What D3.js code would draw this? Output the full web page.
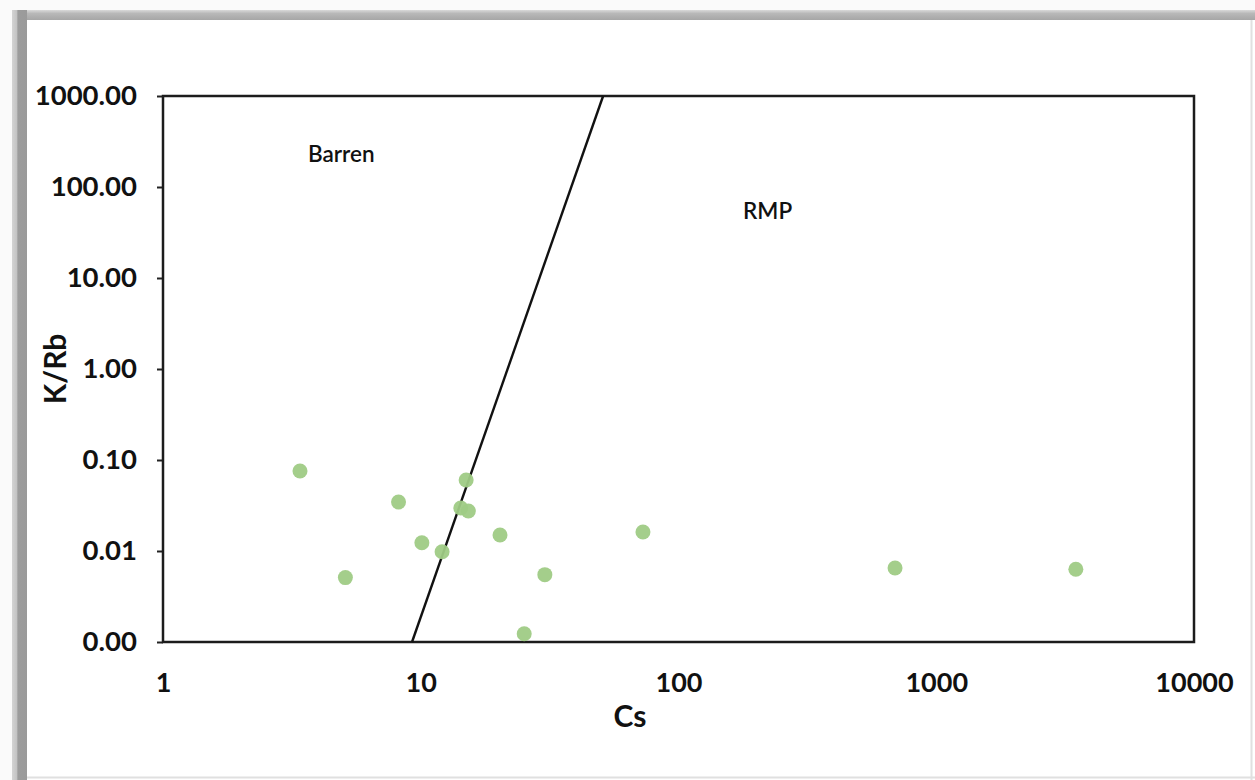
<!DOCTYPE html>
<html>
<head>
<meta charset="utf-8">
<script src="https://cdn.jsdelivr.net/npm/d3@7"></script>
<style>
  html, body { margin: 0; padding: 0; background: #fff; }
  svg { display: block; }
</style>
</head>
<body>
<svg id="chart" width="1255" height="780"></svg>
<script>
// ---- data ----
const csValues   = [3.4, 8.2, 15.0, 14.3, 15.3, 20.3, 10.1, 12.1, 5.1, 30.3, 25.2, 72.8, 692, 3480];
const kRbValues  = [0.0757, 0.0345, 0.0603, 0.0297, 0.0275, 0.0150, 0.0123, 0.0098, 0.0051, 0.0055, 0.00123, 0.0162, 0.0065, 0.0063];
const boundaryCs  = [9.25, 51];
const boundaryKRb = [0.001, 1000];
const xTicks = [1, 10, 100, 1000, 10000];
const yTicks = [0.001, 0.01, 0.1, 1, 10, 100, 1000];
const fieldLabels = ["Barren", "RMP"];
const fieldCs  = [3.65, 178];
const fieldKRb = [188, 44.5];

// ---- layout ----
const W = 1255, H = 780;
const m = { left: 163, right: 1194, top: 96, bottom: 642 };
const svg = d3.select("#chart");
const FONT = "Lato, 'Open Sans', sans-serif";

// frame (shadowed border)
const defs = svg.append("defs");
const gTop = defs.append("linearGradient").attr("id", "gtop").attr("x1", 0).attr("x2", 0).attr("y1", 0).attr("y2", 1);
gTop.append("stop").attr("offset", "0%").attr("stop-color", "#d9d9d9");
gTop.append("stop").attr("offset", "35%").attr("stop-color", "#b8b8b8");
gTop.append("stop").attr("offset", "100%").attr("stop-color", "#a6a6a6");
const gLeft = defs.append("linearGradient").attr("id", "gleft").attr("x1", 0).attr("x2", 1).attr("y1", 0).attr("y2", 0);
gLeft.append("stop").attr("offset", "0%").attr("stop-color", "#d4d4d4");
gLeft.append("stop").attr("offset", "30%").attr("stop-color", "#c4c4c4");
gLeft.append("stop").attr("offset", "40%").attr("stop-color", "#9c9c9c");
gLeft.append("stop").attr("offset", "100%").attr("stop-color", "#9a9a9a");

svg.append("rect").attr("x", 0).attr("y", 0).attr("width", W).attr("height", H).attr("fill", "#fafafa");
svg.append("rect").attr("x", 12).attr("y", 10).attr("width", W - 12).attr("height", H - 10).attr("fill", "#fff");
svg.append("rect").attr("x", 12).attr("y", 10).attr("width", W - 12).attr("height", 10).attr("fill", "url(#gtop)");
svg.append("rect").attr("x", 12).attr("y", 10).attr("width", 15).attr("height", H - 10).attr("fill", "url(#gleft)");
svg.append("line").attr("x1", 1251.5).attr("x2", 1251.5).attr("y1", 20).attr("y2", H).attr("stroke", "#e0e0e0").attr("stroke-width", 2);
svg.append("line").attr("x1", 27).attr("x2", W).attr("y1", 777.5).attr("y2", 777.5).attr("stroke", "#e0e0e0").attr("stroke-width", 2);

// ---- scales ----
const x = d3.scaleLog().domain([1, 10000]).range([m.left, m.right]);
const y = d3.scaleLog().domain([0.001, 1000]).range([m.bottom, m.top]);

// axes
const yAxis = d3.axisLeft(y).tickValues(yTicks).tickFormat(d3.format(".2f")).tickSize(6).tickPadding(20);
const gy = svg.append("g").attr("transform", `translate(${m.left},0)`).call(yAxis);
gy.select(".domain").remove();
gy.selectAll(".tick line").attr("stroke", "#222").attr("stroke-width", 2);
gy.selectAll("text").attr("font-family", FONT).attr("font-weight", "bold").attr("font-size", 27.5).attr("fill", "#111");

const xAxis = d3.axisBottom(x).tickValues(xTicks).tickFormat(d3.format("d")).tickSize(0).tickPadding(31);
const gx = svg.append("g").attr("transform", `translate(0,${m.bottom})`).call(xAxis);
gx.select(".domain").remove();
gx.selectAll("text").attr("font-family", FONT).attr("font-weight", "bold").attr("font-size", 27).attr("fill", "#111");

// plot border
svg.append("rect").attr("x", m.left).attr("y", m.top)
  .attr("width", m.right - m.left).attr("height", m.bottom - m.top)
  .attr("fill", "none").attr("stroke", "#1c1c1c").attr("stroke-width", 2.5);

// boundary line
const lineData = boundaryCs.map((c, i) => [c, boundaryKRb[i]]);
svg.append("path").datum(lineData)
  .attr("d", d3.line().x(d => x(d[0])).y(d => y(d[1])))
  .attr("fill", "none").attr("stroke", "#111").attr("stroke-width", 2.4);

// points
svg.append("g").selectAll("circle").data(csValues.map((c, i) => [c, kRbValues[i]]))
  .join("circle")
  .attr("cx", d => x(d[0])).attr("cy", d => y(d[1])).attr("r", 7.5)
  .attr("fill", "#9fcb85").attr("fill-opacity", 0.95);

// field labels
svg.append("g").selectAll("text").data(fieldLabels).join("text")
  .attr("x", (d, i) => x(fieldCs[i])).attr("y", (d, i) => y(fieldKRb[i]))
  .attr("font-family", FONT).attr("font-size", 22.5).attr("font-weight", 600).attr("fill", "#111")
  .text(d => d);

// axis titles
svg.append("text").attr("x", 630).attr("y", 727).attr("text-anchor", "middle")
  .attr("font-family", FONT).attr("font-weight", "bold").attr("font-size", 30).attr("fill", "#111")
  .text("Cs");
svg.append("text").attr("transform", "translate(66,369) rotate(-90)").attr("text-anchor", "middle")
  .attr("font-family", FONT).attr("font-weight", "bold").attr("font-size", 30).attr("fill", "#111")
  .text("K/Rb");
</script>
</body>
</html>
